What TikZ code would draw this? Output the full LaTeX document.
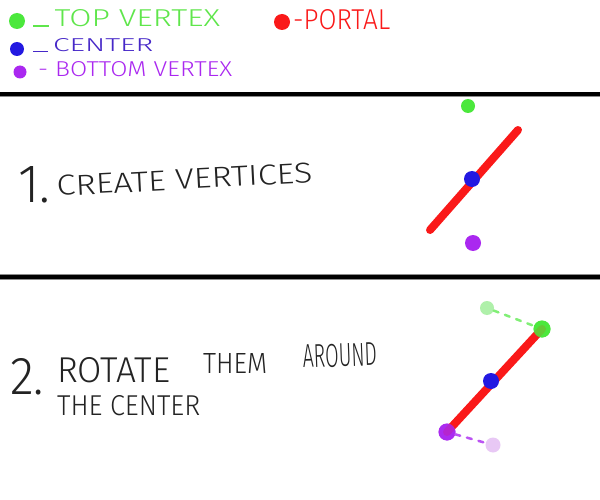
\documentclass[tikz,border=0pt]{standalone}
\usepackage{fontspec}
\usepackage{graphicx}
\IfFontExistsTF{Fira Sans Light}{\newfontfamily\hand{Fira Sans Light}}{\newfontfamily\hand{Fira Sans}}
\newcommand{\hw}[3]{\resizebox{#1}{#2}{\hand #3}}
\newcommand{\lowbar}{\rule{0.5em}{0.08em}}
\definecolor{vgreen}{RGB}{75,232,60}
\definecolor{vgreentext}{RGB}{95,230,75}
\definecolor{vblue}{RGB}{35,25,225}
\definecolor{vbluetext}{RGB}{70,40,200}
\definecolor{vpurple}{RGB}{170,40,240}
\definecolor{vred}{RGB}{250,25,25}
\definecolor{ink}{RGB}{35,35,35}
\definecolor{fgreen}{RGB}{175,240,170}
\definecolor{fpurple}{RGB}{232,200,245}
\begin{document}
\begin{tikzpicture}[x=1pt,y=-1pt,
  dot/.style={circle,fill,inner sep=0pt,minimum size=#1},
  lbl/.style={anchor=base west,inner sep=0pt},
  portal/.style={draw=vred,line width=8pt,line cap=round},
  sep/.style={line width=4pt,black},
  trail/.style={line width=2.5pt,dash pattern=on 5pt off 7pt,line cap=round}]
\useasboundingbox (0,0) rectangle (600,500);
\fill[white] (0,0) rectangle (600,500);
% separators
\draw[line width=5.5pt,black!45] (0,94.5) -- (600,94.5);
\draw[sep] (0,94.5) -- (600,94.5);
\draw[line width=5.5pt,black!45] (0,277) -- (600,277);
\draw[sep] (0,277) -- (600,277);
% legend
\node[dot=16pt,vgreen] (lgtopdot) at (17,21) {};
\node[lbl,text=vgreentext] (lgtop) at (33,27) {\hw{187pt}{17pt}{\lowbar\,TOP VERTEX}};
\node[dot=16pt,vred] (lgportaldot) at (282,22) {};
\node[lbl,text=vred] (lgportal) at (293,30) {\hw{97pt}{20pt}{-PORTAL}};
\node[dot=14pt,vblue] (lgcenterdot) at (17,49) {};
\node[lbl,text=vbluetext] (lgcenter) at (33,52) {\hw{120pt}{13pt}{\lowbar\,CENTER}};
\node[dot=13pt,vpurple] (lgbottomdot) at (20,72) {};
\node[lbl,text=vpurple] (lgbottom) at (38,77) {\hw{194pt}{15pt}{- BOTTOM VERTEX}};
% section 1
\node[lbl,text=ink] (s1num) at (18,202) {\hw{32pt}{36pt}{1.}};
\node[lbl,text=ink,rotate=3] (s1text) at (57,196) {\hw{256pt}{20pt}{CREATE VERTICES}};
\coordinate (p1a) at (430,230);
\coordinate (p1b) at (518,130);
\draw[portal] (p1a) -- (p1b);
\node[dot=14pt,vgreen] (top1) at (468,106) {};
\node[dot=16pt,vblue] (center1) at (472,179) {};
\node[dot=16pt,vpurple] (bottom1) at (473,243) {};
% section 2
\node[lbl,text=ink] (s2num) at (10,394) {\hw{34pt}{36pt}{2.}};
\node[lbl,text=ink] (s2w1) at (57,382) {\hw{113pt}{25pt}{ROTATE}};
\node[lbl,text=ink] (s2w2) at (203,373) {\hw{64pt}{20pt}{THEM}};
\node[lbl,text=ink,rotate=2] (s2w3) at (303,368) {\hw{74pt}{23pt}{AROUND}};
\node[lbl,text=ink] (s2l2) at (57,415) {\hw{143pt}{20pt}{THE CENTER}};
\node[dot=14pt,fgreen] (top2old) at (487,308) {};
\node[dot=15pt,fpurple] (bottom2old) at (493,445) {};
\node[dot=17pt,vgreen] (top2) at (542,329) {};
\node[dot=17pt,vpurple,opacity=0.9] (bottom2) at (447,432) {};
\draw[portal] (bottom2.center) -- (top2.center);
\node[dot=17pt,vgreen,opacity=0.85] at (top2) {};
\node[dot=17pt,vpurple,opacity=0.85] at (bottom2) {};
\node[dot=16pt,vblue] (center2) at (491,381) {};
\draw[trail,draw=vgreen!70] (top2old) -- (top2);
\draw[trail,draw=vpurple!80] (bottom2) -- (bottom2old);
\end{tikzpicture}
\end{document}
